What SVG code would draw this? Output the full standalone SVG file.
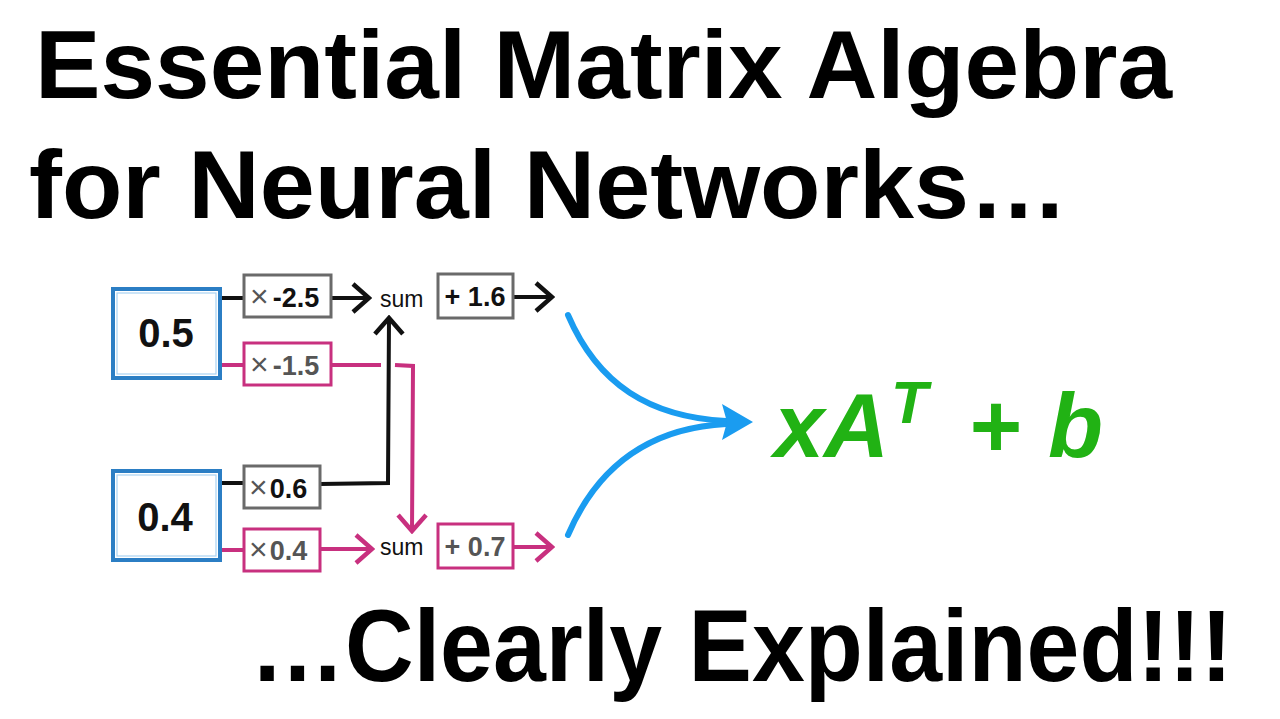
<svg xmlns="http://www.w3.org/2000/svg" width="1280" height="719" viewBox="0 0 1280 719">
<defs>
<style>
.title{font-family:"Liberation Sans",Arial,Helvetica,sans-serif;font-weight:bold;fill:#000}
.t{font-family:"Liberation Sans",Arial,Helvetica,sans-serif}
.in{fill:#fff;stroke:#2b7ec4;stroke-width:4}
.inb{fill:none;stroke:#a9d2f2;stroke-width:1.2}
.gbox{fill:#fff;stroke:#6a6a6a;stroke-width:3}
.pbox{fill:#fff;stroke:#c8307f;stroke-width:3}
.bl{fill:none;stroke:#111;stroke-width:4;stroke-linejoin:miter}
.pl{fill:none;stroke:#c8307f;stroke-width:4;stroke-linejoin:miter}
.blue{fill:none;stroke:#1a9cf0;stroke-width:6;stroke-linecap:round}
.num{font-size:40px;font-weight:bold;fill:#111}
.op{font-size:32px;fill:#555}
.val{font-size:27px;font-weight:bold}
.sum{font-size:23px;fill:#111}
</style>
<marker id="hb" viewBox="0 0 22 32" refX="19" refY="16" markerWidth="22" markerHeight="32" markerUnits="userSpaceOnUse" orient="auto">
<path d="M3,2 L19,16 L3,30" fill="none" stroke="#111" stroke-width="4.5" stroke-linejoin="miter"/>
</marker>
<marker id="hp" viewBox="0 0 22 32" refX="19" refY="16" markerWidth="22" markerHeight="32" markerUnits="userSpaceOnUse" orient="auto">
<path d="M3,2 L19,16 L3,30" fill="none" stroke="#c8307f" stroke-width="4.5" stroke-linejoin="miter"/>
</marker>
</defs>
<rect width="1280" height="719" fill="#fff"/>

<g id="title">
<text class="title" x="35" y="98" font-size="96" textLength="1137" lengthAdjust="spacingAndGlyphs">Essential Matrix Algebra</text>
<text class="title" x="29" y="218" font-size="96" textLength="1039" lengthAdjust="spacingAndGlyphs">for Neural Networks…</text>
</g>

<g id="connectors">
<line class="bl" x1="220" y1="298" x2="244" y2="298"/>
<line class="pl" x1="220" y1="365" x2="244" y2="365"/>
<line class="bl" x1="220" y1="483" x2="244" y2="483"/>
<line class="pl" x1="220" y1="550" x2="244" y2="550"/>
<line class="bl" x1="331" y1="298" x2="369" y2="298" marker-end="url(#hb)"/>
<line class="bl" x1="513" y1="297" x2="552" y2="297" marker-end="url(#hb)"/>
<path class="bl" d="M320,484 L388,483 L389,318" marker-end="url(#hb)"/>
<path class="pl" d="M331,365 L381,365"/>
<path class="pl" d="M395,365 L413,366 L412,531" marker-end="url(#hp)"/>
<line class="pl" x1="320" y1="549" x2="372" y2="549" marker-end="url(#hp)"/>
<line class="pl" x1="513" y1="547" x2="552" y2="547" marker-end="url(#hp)"/>
<path class="blue" d="M568,315 C598,385 650,417 726,421"/>
<path class="blue" d="M568,535 C598,465 650,428 726,424"/>
<path d="M722,404 L753,422 L722,440 L727,422 Z" fill="#1a9cf0"/>
</g>

<g id="in05">
<rect class="in" x="113" y="289" width="107" height="89"/>
<rect class="inb" x="117" y="293" width="99" height="81"/>
<text class="t num" x="166" y="347" text-anchor="middle">0.5</text>
</g>
<g id="in04">
<rect class="in" x="113" y="471" width="107" height="89"/>
<rect class="inb" x="117" y="475" width="99" height="81"/>
<text class="t num" x="165" y="531" text-anchor="middle">0.4</text>
</g>

<g id="w11">
<rect class="gbox" x="244" y="275" width="87" height="42"/>
<text class="t" x="250" y="307"><tspan class="op">×</tspan><tspan class="val" fill="#111" dx="4">-2.5</tspan></text>
</g>
<g id="w12">
<rect class="pbox" x="244" y="343" width="87" height="42"/>
<text class="t" x="250" y="375"><tspan class="op">×</tspan><tspan class="val" fill="#555" dx="4">-1.5</tspan></text>
</g>
<g id="w21">
<rect class="gbox" x="244" y="466" width="76" height="42"/>
<text class="t" x="249" y="498"><tspan class="op" fill="#111">×</tspan><tspan class="val" fill="#111" dx="2">0.6</tspan></text>
</g>
<g id="w22">
<rect class="pbox" x="244" y="529" width="76" height="42"/>
<text class="t" x="249" y="560"><tspan class="op">×</tspan><tspan class="val" fill="#555" dx="2">0.4</tspan></text>
</g>

<g id="sum1"><text class="t sum" x="380" y="307">sum</text></g>
<g id="sum2"><text class="t sum" x="380" y="555">sum</text></g>

<g id="b1">
<rect class="gbox" x="438" y="274" width="75" height="44"/>
<text class="t val" x="475" y="306" text-anchor="middle" fill="#111">+ 1.6</text>
</g>
<g id="b2">
<rect class="pbox" x="438" y="524" width="75" height="44"/>
<text class="t val" x="475" y="556" text-anchor="middle" fill="#555">+ 0.7</text>
</g>

<g id="formula">
<text class="t" x="774" y="457" font-size="90" font-weight="bold" font-style="italic" fill="#21b214">xA<tspan dx="2" dy="-34" font-size="60">T</tspan><tspan x="968" y="457">+</tspan><tspan x="1048" y="457">b</tspan></text>
</g>

<g id="subtitle">
<text class="title" transform="translate(250,681) scale(0.932,1)" x="0" y="0" font-size="102">…Clearly Explained!!!</text>
</g>
</svg>
